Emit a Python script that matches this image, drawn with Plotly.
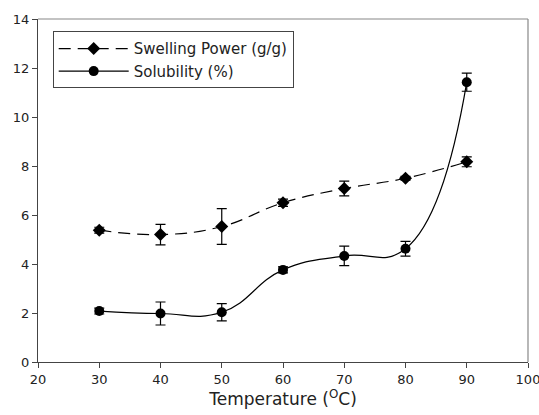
import plotly.graph_objects as go

temperature = [30, 40, 50, 60, 70, 80, 90]
swelling = [5.38, 5.20, 5.53, 6.50, 7.08, 7.50, 8.17]
swelling_err = [0.12, 0.42, 0.73, 0.15, 0.30, 0.08, 0.20]
solubility = [2.08, 1.98, 2.03, 3.76, 4.33, 4.62, 11.42]
solubility_err = [0.12, 0.47, 0.35, 0.12, 0.40, 0.30, 0.37]

x_ticks = [20, 30, 40, 50, 60, 70, 80, 90, 100]
y_ticks = [0, 2, 4, 6, 8, 10, 12, 14]

font = "DejaVu Sans, Arial, sans-serif"

fig = go.Figure()
fig.add_trace(go.Scatter(
    x=temperature, y=swelling, name="Swelling Power (g/g)",
    mode="lines+markers",
    line=dict(color="black", width=1.2, dash="12px,7px", shape="spline", smoothing=1.2),
    marker=dict(symbol="diamond", size=10, color="black"),
    error_y=dict(type="data", array=swelling_err, color="black", thickness=1.2, width=5),
))
fig.add_trace(go.Scatter(
    x=temperature, y=solubility, name="Solubility (%)",
    mode="lines+markers",
    line=dict(color="black", width=1.2, shape="spline", smoothing=1.3),
    marker=dict(symbol="circle", size=10, color="black"),
    error_y=dict(type="data", array=solubility_err, color="black", thickness=1.2, width=5),
))

fig.add_shape(type="line", xref="paper", yref="paper", x0=0, x1=1, y0=1, y1=1,
              line=dict(color="#888", width=1.2))
fig.add_shape(type="line", xref="paper", yref="paper", x0=1, x1=1, y0=0, y1=1,
              line=dict(color="#888", width=1.2))

fig.update_layout(
    width=539, height=415,
    margin=dict(l=38, r=11, t=19, b=53),
    plot_bgcolor="white", paper_bgcolor="white",
    font=dict(family=font, size=13, color="#222"),
    showlegend=True,
    legend=dict(x=0.03, y=0.964, xanchor="left", yanchor="top",
                bordercolor="#444", borderwidth=1, bgcolor="white",
                font=dict(size=15), itemwidth=70, tracegroupgap=0),
    xaxis=dict(range=[20, 100], tickvals=x_ticks, ticks="outside", ticklen=5,
               tickcolor="#444", showline=True, linecolor="#444", linewidth=1.2,
               showgrid=False, zeroline=False, automargin=False,
               ticklabeloverflow="allow",
               title=dict(text="Temperature (<sup>O</sup>C)", font=dict(size=17), standoff=6)),
    yaxis=dict(range=[0, 14], tickvals=y_ticks, ticks="outside", ticklen=5,
               tickcolor="#444", showline=True, linecolor="#444", linewidth=1.2,
               showgrid=False, zeroline=False, automargin=False,
               ticklabeloverflow="allow"),
)

fig.write_html("out.html")
